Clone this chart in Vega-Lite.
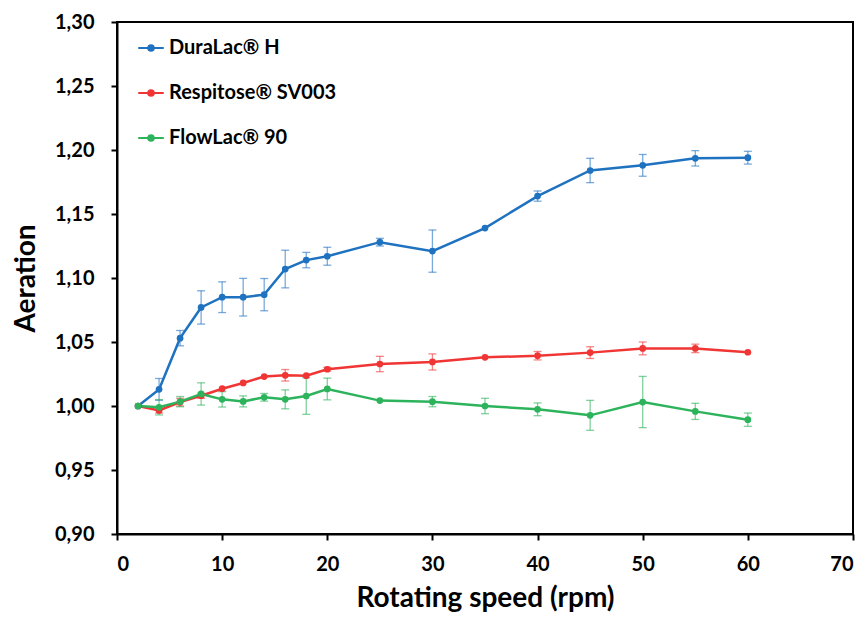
{
  "$schema": "https://vega.github.io/schema/vega-lite/v6.json",
  "width": 736,
  "height": 512,
  "autosize": {"type": "none"},
  "padding": {"left": 117, "top": 22, "right": 13, "bottom": 85},
  "background": "white",
  "config": {
    "font": "Lato",
    "view": {"stroke": "black", "strokeWidth": 2},
    "axis": {
      "grid": false,
      "domainColor": "black",
      "domainWidth": 2,
      "tickColor": "black",
      "tickWidth": 2,
      "tickSize": 6,
      "labelFont": "Lato",
      "labelFontWeight": "bold",
      "labelFontSize": 20,
      "labelColor": "black",
      "titleFont": "Lato",
      "titleFontWeight": "bold",
      "titleFontSize": 28,
      "titleColor": "black"
    },
    "axisX": {"labelPadding": 14, "titlePadding": 10},
    "axisY": {"labelPadding": 17, "titlePadding": 14}
  },
  "data": {
    "values": [
      {"s": "DuraLac® H", "x": 2, "y": 1.000, "lo": 1.000, "hi": 1.000},
      {"s": "DuraLac® H", "x": 4, "y": 1.013, "lo": 1.0045, "hi": 1.0215},
      {"s": "DuraLac® H", "x": 6, "y": 1.053, "lo": 1.047, "hi": 1.059},
      {"s": "DuraLac® H", "x": 8, "y": 1.077, "lo": 1.064, "hi": 1.090},
      {"s": "DuraLac® H", "x": 10, "y": 1.085, "lo": 1.073, "hi": 1.097},
      {"s": "DuraLac® H", "x": 12, "y": 1.085, "lo": 1.0703, "hi": 1.0997},
      {"s": "DuraLac® H", "x": 14, "y": 1.087, "lo": 1.0744, "hi": 1.0996},
      {"s": "DuraLac® H", "x": 16, "y": 1.107, "lo": 1.0923, "hi": 1.1217},
      {"s": "DuraLac® H", "x": 18, "y": 1.114, "lo": 1.108, "hi": 1.120},
      {"s": "DuraLac® H", "x": 20, "y": 1.117, "lo": 1.110, "hi": 1.124},
      {"s": "DuraLac® H", "x": 25, "y": 1.128, "lo": 1.125, "hi": 1.131},
      {"s": "DuraLac® H", "x": 30, "y": 1.121, "lo": 1.1045, "hi": 1.1375},
      {"s": "DuraLac® H", "x": 35, "y": 1.139, "lo": 1.139, "hi": 1.139},
      {"s": "DuraLac® H", "x": 40, "y": 1.164, "lo": 1.160, "hi": 1.168},
      {"s": "DuraLac® H", "x": 45, "y": 1.184, "lo": 1.1745, "hi": 1.1935},
      {"s": "DuraLac® H", "x": 50, "y": 1.188, "lo": 1.1795, "hi": 1.1965},
      {"s": "DuraLac® H", "x": 55, "y": 1.1935, "lo": 1.1875, "hi": 1.1995},
      {"s": "DuraLac® H", "x": 60, "y": 1.194, "lo": 1.189, "hi": 1.199},
      {"s": "Respitose® SV003", "x": 2, "y": 1.000, "lo": 1.000, "hi": 1.000},
      {"s": "Respitose® SV003", "x": 4, "y": 0.9965, "lo": 0.9945, "hi": 0.9985},
      {"s": "Respitose® SV003", "x": 6, "y": 1.003, "lo": 1.000, "hi": 1.006},
      {"s": "Respitose® SV003", "x": 8, "y": 1.008, "lo": 1.006, "hi": 1.010},
      {"s": "Respitose® SV003", "x": 10, "y": 1.0135, "lo": 1.0135, "hi": 1.0135},
      {"s": "Respitose® SV003", "x": 12, "y": 1.018, "lo": 1.018, "hi": 1.018},
      {"s": "Respitose® SV003", "x": 14, "y": 1.023, "lo": 1.023, "hi": 1.023},
      {"s": "Respitose® SV003", "x": 16, "y": 1.024, "lo": 1.0195, "hi": 1.0285},
      {"s": "Respitose® SV003", "x": 18, "y": 1.0237, "lo": 1.0237, "hi": 1.0237},
      {"s": "Respitose® SV003", "x": 20, "y": 1.0287, "lo": 1.0272, "hi": 1.0302},
      {"s": "Respitose® SV003", "x": 25, "y": 1.0328, "lo": 1.0268, "hi": 1.0388},
      {"s": "Respitose® SV003", "x": 30, "y": 1.0344, "lo": 1.0281, "hi": 1.0407},
      {"s": "Respitose® SV003", "x": 35, "y": 1.038, "lo": 1.038, "hi": 1.038},
      {"s": "Respitose® SV003", "x": 40, "y": 1.0393, "lo": 1.036, "hi": 1.0426},
      {"s": "Respitose® SV003", "x": 45, "y": 1.0417, "lo": 1.0371, "hi": 1.0463},
      {"s": "Respitose® SV003", "x": 50, "y": 1.045, "lo": 1.040, "hi": 1.050},
      {"s": "Respitose® SV003", "x": 55, "y": 1.045, "lo": 1.0417, "hi": 1.0483},
      {"s": "Respitose® SV003", "x": 60, "y": 1.042, "lo": 1.042, "hi": 1.042},
      {"s": "FlowLac® 90", "x": 2, "y": 1.000, "lo": 1.000, "hi": 1.000},
      {"s": "FlowLac® 90", "x": 4, "y": 0.999, "lo": 0.993, "hi": 1.005},
      {"s": "FlowLac® 90", "x": 6, "y": 1.0034, "lo": 0.9994, "hi": 1.0074},
      {"s": "FlowLac® 90", "x": 8, "y": 1.0094, "lo": 1.0007, "hi": 1.0181},
      {"s": "FlowLac® 90", "x": 10, "y": 1.0052, "lo": 0.9992, "hi": 1.0112},
      {"s": "FlowLac® 90", "x": 12, "y": 1.0036, "lo": 0.9993, "hi": 1.0079},
      {"s": "FlowLac® 90", "x": 14, "y": 1.0068, "lo": 1.0038, "hi": 1.0098},
      {"s": "FlowLac® 90", "x": 16, "y": 1.0052, "lo": 0.9978, "hi": 1.0126},
      {"s": "FlowLac® 90", "x": 18, "y": 1.0078, "lo": 0.9935, "hi": 1.0221},
      {"s": "FlowLac® 90", "x": 20, "y": 1.0133, "lo": 1.0048, "hi": 1.0218},
      {"s": "FlowLac® 90", "x": 25, "y": 1.0042, "lo": 1.0042, "hi": 1.0042},
      {"s": "FlowLac® 90", "x": 30, "y": 1.0034, "lo": 0.9994, "hi": 1.0074},
      {"s": "FlowLac® 90", "x": 35, "y": 1.000, "lo": 0.994, "hi": 1.006},
      {"s": "FlowLac® 90", "x": 40, "y": 0.9974, "lo": 0.9924, "hi": 1.0024},
      {"s": "FlowLac® 90", "x": 45, "y": 0.9927, "lo": 0.981, "hi": 1.0044},
      {"s": "FlowLac® 90", "x": 50, "y": 1.0031, "lo": 0.9831, "hi": 1.0231},
      {"s": "FlowLac® 90", "x": 55, "y": 0.9958, "lo": 0.9895, "hi": 1.0021},
      {"s": "FlowLac® 90", "x": 60, "y": 0.9893, "lo": 0.9841, "hi": 0.9945}
    ]
  },
  "encoding": {
    "x": {
      "field": "x",
      "type": "quantitative",
      "scale": {"domain": [0, 70], "nice": false},
      "axis": {"values": [0, 10, 20, 30, 40, 50, 60, 70], "title": "Rotating speed (rpm)"}
    },
    "color": {
      "field": "s",
      "type": "nominal",
      "scale": {
        "domain": ["DuraLac® H", "Respitose® SV003", "FlowLac® 90"],
        "range": ["#1f72c0", "#f03535", "#2db35c"]
      },
      "legend": {
        "title": null,
        "orient": "none",
        "legendX": 20,
        "legendY": 12,
        "symbolType": "M-1,0L1,0M-0.22,0A0.22,0.22 0 1,1 0.22,0A0.22,0.22 0 1,1 -0.22,0Z",
        "symbolSize": 650,
        "symbolStrokeWidth": 2,
        "symbolOpacity": 1,
        "labelFont": "Lato",
        "labelFontWeight": "bold",
        "labelFontSize": 20,
        "labelColor": "black",
        "labelOffset": 4,
        "rowPadding": 21,
        "labelLimit": 400,
        "encode": {"symbols": {"update": {"stroke": {"scale": "color", "field": "value"}, "fill": {"scale": "color", "field": "value"}}}}
      }
    }
  },
  "layer": [
    {
      "transform": [{"filter": "datum.hi > datum.lo"}],
      "mark": {"type": "rule", "strokeWidth": 1.3, "opacity": 0.6},
      "encoding": {
        "y": {"field": "lo", "type": "quantitative", "scale": {"domain": [0.9, 1.3], "nice": false},
          "axis": {"values": [0.9, 0.95, 1.0, 1.05, 1.1, 1.15, 1.2, 1.25, 1.3], "labelExpr": "replace(format(datum.value, '.2f'), '.', ',')", "title": "Aeration"}},
        "y2": {"field": "hi"}
      }
    },
    {
      "transform": [{"filter": "datum.hi > datum.lo"}],
      "mark": {"type": "tick", "orient": "horizontal", "size": 8, "thickness": 1.3, "opacity": 0.6},
      "encoding": {
        "y": {"field": "lo", "type": "quantitative", "scale": {"domain": [0.9, 1.3], "nice": false},
          "axis": {"values": [0.9, 0.95, 1.0, 1.05, 1.1, 1.15, 1.2, 1.25, 1.3], "labelExpr": "replace(format(datum.value, '.2f'), '.', ',')", "title": "Aeration"}}
      }
    },
    {
      "transform": [{"filter": "datum.hi > datum.lo"}],
      "mark": {"type": "tick", "orient": "horizontal", "size": 8, "thickness": 1.3, "opacity": 0.6},
      "encoding": {
        "y": {"field": "hi", "type": "quantitative", "scale": {"domain": [0.9, 1.3], "nice": false},
          "axis": {"values": [0.9, 0.95, 1.0, 1.05, 1.1, 1.15, 1.2, 1.25, 1.3], "labelExpr": "replace(format(datum.value, '.2f'), '.', ',')", "title": "Aeration"}}
      }
    },
    {
      "mark": {"type": "line", "strokeWidth": 2.5},
      "encoding": {
        "y": {"field": "y", "type": "quantitative", "scale": {"domain": [0.9, 1.3], "nice": false},
          "axis": {"values": [0.9, 0.95, 1.0, 1.05, 1.1, 1.15, 1.2, 1.25, 1.3], "labelExpr": "replace(format(datum.value, '.2f'), '.', ',')", "title": "Aeration"}}
      }
    },
    {
      "mark": {"type": "point", "filled": true, "size": 45, "opacity": 1},
      "encoding": {
        "y": {"field": "y", "type": "quantitative", "scale": {"domain": [0.9, 1.3], "nice": false},
          "axis": {"values": [0.9, 0.95, 1.0, 1.05, 1.1, 1.15, 1.2, 1.25, 1.3], "labelExpr": "replace(format(datum.value, '.2f'), '.', ',')", "title": "Aeration"}}
      }
    }
  ]
}
